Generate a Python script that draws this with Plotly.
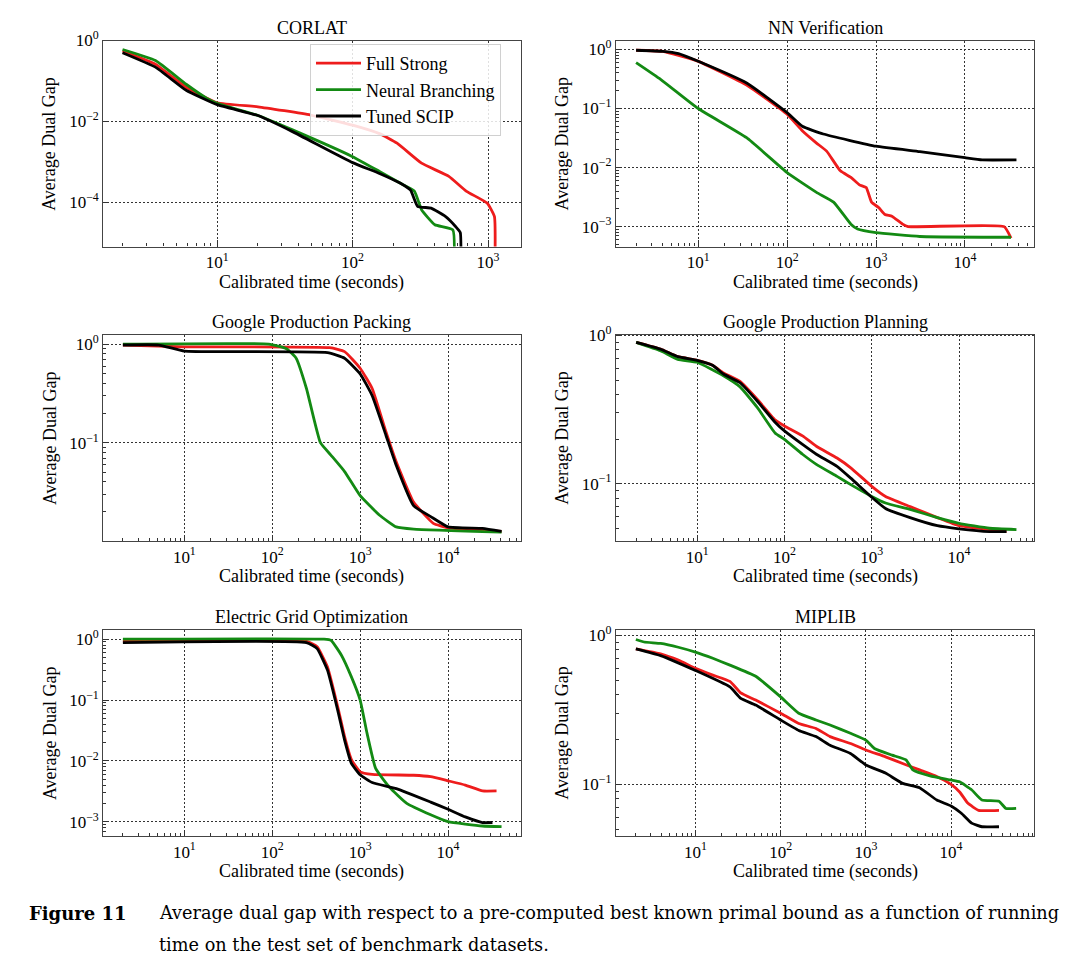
import plotly.graph_objects as go

# ---------------- data ----------------
series_names = ["Full Strong", "Neural Branching", "Tuned SCIP"]
series_colors = ["#ee1c1c", "#138a13", "#000000"]
panel_titles = ["CORLAT", "NN Verification", "Google Production Packing",
                "Google Production Planning", "Electric Grid Optimization", "MIPLIB"]

# CORLAT
corlat_fs_x = [2, 3.5, 5.9, 10, 20, 49, 100, 158, 213, 323, 514, 690, 985, 1115, 1120]
corlat_fs_y = [0.55, 0.26, 0.07, 0.029, 0.023, 0.0144, 0.0081, 0.005, 0.0029, 0.00093, 0.00044, 0.00019, 9.6e-5, 4.5e-5, 1e-6]
corlat_nb_x = [2, 3.5, 5.9, 8.4, 10, 20, 36, 100, 158, 224, 286, 323, 405, 550, 557]
corlat_nb_y = [0.60, 0.32, 0.083, 0.037, 0.028, 0.014, 0.0062, 0.00135, 0.00058, 0.0003, 0.00019, 6.6e-5, 2.8e-5, 2.1e-5, 1e-6]
corlat_ts_x = [2, 3.5, 5.9, 10, 20, 36, 100, 158, 224, 268, 302, 380, 484, 578, 624, 628]
corlat_ts_y = [0.50, 0.22, 0.059, 0.026, 0.014, 0.0056, 0.00096, 0.00052, 0.0003, 0.0002, 8e-5, 7.2e-5, 4.5e-5, 2.5e-5, 1.8e-5, 1e-6]

# NN Verification
nn_fs_x = [2, 4, 10, 35, 100, 148, 214, 278, 397, 522, 650, 775, 890, 1070, 1260, 1510, 1990, 2290, 27600, 33000]
nn_fs_y = [0.97, 0.93, 0.63, 0.25, 0.08, 0.042, 0.026, 0.019, 0.0088, 0.0068, 0.0051, 0.0046, 0.0026, 0.0021, 0.0016, 0.0015, 0.0011, 0.001, 0.001, 0.00064]
nn_nb_x = [2, 3.8, 10, 35, 100, 214, 333, 522, 620, 1000, 3110, 33000]
nn_nb_y = [0.6, 0.31, 0.1, 0.032, 0.0082, 0.0038, 0.0026, 0.0011, 0.00091, 0.00079, 0.00068, 0.00066]
nn_ts_x = [2, 4, 6, 10, 35, 100, 148, 255, 1000, 3110, 10000, 15600, 38000]
nn_ts_y = [0.97, 0.93, 0.85, 0.63, 0.27, 0.085, 0.05, 0.037, 0.023, 0.0186, 0.0147, 0.0135, 0.0135]

# Google Production Packing
pk_fs_x = [2, 10, 450, 665, 1000, 1370, 1960, 2570, 4050, 6800, 10000, 40600]
pk_fs_y = [0.98, 0.94, 0.92, 0.84, 0.57, 0.355, 0.13, 0.064, 0.025, 0.0152, 0.0137, 0.0126]
pk_nb_x = [2, 91, 145, 187, 245, 353, 464, 665, 1000, 1650, 2570, 4050, 40600]
pk_nb_y = [1.0, 1.0, 0.9, 0.72, 0.355, 0.10, 0.075, 0.051, 0.029, 0.0185, 0.014, 0.0133, 0.0124]
pk_ts_x = [2, 5.1, 10, 45, 425, 665, 1000, 1370, 1960, 2570, 4050, 6350, 10000, 24600, 40600]
pk_ts_y = [0.98, 0.98, 0.85, 0.84, 0.82, 0.72, 0.5, 0.30, 0.12, 0.059, 0.023, 0.0178, 0.014, 0.0135, 0.0126]

# Google Production Planning
pl_fs_x = [2, 3.8, 6, 10, 15, 20, 31, 49, 78, 100, 161, 232, 400, 575, 1000, 1440, 2750, 5650, 10000, 22300, 35000]
pl_fs_y = [0.90, 0.81, 0.72, 0.68, 0.63, 0.56, 0.49, 0.37, 0.27, 0.245, 0.21, 0.179, 0.149, 0.128, 0.096, 0.082, 0.070, 0.059, 0.052, 0.049, 0.0475]
pl_nb_x = [2, 3.8, 6, 10, 20, 31, 49, 78, 100, 161, 232, 400, 575, 1000, 1440, 2750, 5650, 10000, 22300, 45500]
pl_nb_y = [0.90, 0.79, 0.69, 0.66, 0.535, 0.45, 0.326, 0.22, 0.199, 0.158, 0.135, 0.112, 0.0985, 0.082, 0.074, 0.067, 0.059, 0.054, 0.05, 0.049]
pl_ts_x = [2, 3.8, 6, 10, 15, 20, 31, 49, 78, 100, 161, 232, 400, 575, 1000, 1440, 2750, 5650, 10000, 22300, 35000]
pl_ts_y = [0.90, 0.81, 0.72, 0.68, 0.63, 0.55, 0.48, 0.36, 0.26, 0.227, 0.184, 0.158, 0.131, 0.109, 0.081, 0.068, 0.059, 0.052, 0.0496, 0.0475, 0.0475]

# Electric Grid Optimization
eg_fs_x = [2, 245, 324, 425, 555, 665, 795, 1000, 1370, 4050, 6340, 10000, 15700, 24700, 35600]
eg_fs_y = [0.92, 0.92, 0.75, 0.35, 0.078, 0.025, 0.0105, 0.0066, 0.006, 0.0058, 0.0055, 0.0047, 0.004, 0.0032, 0.0032]
eg_nb_x = [2, 388, 465, 610, 795, 1000, 1200, 1500, 2150, 3390, 6340, 10000, 24600, 40600]
eg_nb_y = [1.0, 1.0, 0.96, 0.55, 0.24, 0.1, 0.028, 0.0075, 0.0037, 0.002, 0.0013, 0.001, 0.00085, 0.00083]
eg_ts_x = [2, 245, 324, 425, 555, 665, 795, 1000, 1370, 2580, 6340, 10000, 15700, 24700, 32000]
eg_ts_y = [0.88, 0.88, 0.70, 0.31, 0.068, 0.022, 0.0091, 0.0059, 0.0044, 0.0035, 0.0021, 0.0016, 0.0012, 0.00097, 0.00097]

# MIPLIB
mp_fs_x = [2, 3.9, 6.3, 10, 16, 25.4, 34, 51, 100, 163, 260, 380, 660, 1000, 1700, 2700, 4270, 6800, 10000, 12600, 15800, 21000, 36500]
mp_fs_y = [0.81, 0.75, 0.68, 0.60, 0.54, 0.49, 0.41, 0.367, 0.30, 0.256, 0.237, 0.209, 0.188, 0.17, 0.153, 0.138, 0.125, 0.113, 0.1, 0.089, 0.0746, 0.067, 0.067]
mp_nb_x = [2, 2.5, 3.9, 6.3, 10, 16, 25.4, 51, 100, 163, 260, 380, 660, 1000, 1260, 2030, 2960, 3560, 5660, 10000, 12600, 17400, 23000, 36500, 44000, 58000]
mp_nb_y = [0.935, 0.90, 0.88, 0.83, 0.77, 0.70, 0.63, 0.53, 0.386, 0.30, 0.27, 0.25, 0.22, 0.198, 0.174, 0.157, 0.146, 0.125, 0.114, 0.107, 0.104, 0.092, 0.0785, 0.077, 0.069, 0.069]
mp_ts_x = [2, 3.9, 10, 25.4, 34, 51, 100, 163, 260, 380, 660, 1000, 1700, 2700, 4270, 6800, 10000, 13200, 17400, 23000, 36500]
mp_ts_y = [0.81, 0.73, 0.58, 0.45, 0.377, 0.34, 0.27, 0.23, 0.209, 0.183, 0.161, 0.135, 0.119, 0.1016, 0.095, 0.0785, 0.0716, 0.064, 0.055, 0.052, 0.052]

# tick labels
x_ticks_corlat = [10, 100, 1000]
x_ticktext_corlat = ["10<sup>1</sup>", "10<sup>2</sup>", "10<sup>3</sup>"]
x_ticks_long = [10, 100, 1000, 10000]
x_ticktext_long = ["10<sup>1</sup>", "10<sup>2</sup>", "10<sup>3</sup>", "10<sup>4</sup>"]
y_ticks_corlat = [1, 1e-2, 1e-4]
y_ticktext_corlat = ["10<sup>0</sup>", "10<sup>−2</sup>", "10<sup>−4</sup>"]
y_ticks_3dec = [1, 1e-1, 1e-2, 1e-3]
y_ticktext_3dec = ["10<sup>0</sup>", "10<sup>−1</sup>", "10<sup>−2</sup>", "10<sup>−3</sup>"]
y_ticks_1dec = [1, 1e-1]
y_ticktext_1dec = ["10<sup>0</sup>", "10<sup>−1</sup>"]

x_title = "Calibrated time (seconds)"
y_title = "Average Dual Gap"
caption_label = "Figure 11"
caption_line1 = "Average dual gap with respect to a pre-computed best known primal bound as a function of running"
caption_line2 = "time on the test set of benchmark datasets."

# ---------------- layout geometry ----------------
W, H = 1080, 969
col_px = [(103.3, 520.5), (616.0, 1034.0)]
row_px = [(40.5, 246.5), (334.5, 541.0), (629.5, 836.0)]

panels = [
    dict(data=[(corlat_fs_x, corlat_fs_y), (corlat_nb_x, corlat_nb_y), (corlat_ts_x, corlat_ts_y)],
         xr=[0.159, 3.24], yr=[-5.09, 0.0], xt=(x_ticks_corlat, x_ticktext_corlat),
         yt=(y_ticks_corlat, y_ticktext_corlat), yminor=False),
    dict(data=[(nn_fs_x, nn_fs_y), (nn_nb_x, nn_nb_y), (nn_ts_x, nn_ts_y)],
         xr=[0.075, 4.777], yr=[-3.337, 0.152], xt=(x_ticks_long, x_ticktext_long),
         yt=(y_ticks_3dec, y_ticktext_3dec), yminor=True),
    dict(data=[(pk_fs_x, pk_fs_y), (pk_nb_x, pk_nb_y), (pk_ts_x, pk_ts_y)],
         xr=[0.078, 4.824], yr=[-1.997, 0.098], xt=(x_ticks_long, x_ticktext_long),
         yt=(y_ticks_1dec, y_ticktext_1dec), yminor=True),
    dict(data=[(pl_fs_x, pl_fs_y), (pl_nb_x, pl_nb_y), (pl_ts_x, pl_ts_y)],
         xr=[0.07, 4.859], yr=[-1.387, 0.007], xt=(x_ticks_long, x_ticktext_long),
         yt=(y_ticks_1dec, y_ticktext_1dec), yminor=True),
    dict(data=[(eg_fs_x, eg_fs_y), (eg_nb_x, eg_nb_y), (eg_ts_x, eg_ts_y)],
         xr=[0.078, 4.824], yr=[-3.235, 0.159], xt=(x_ticks_long, x_ticktext_long),
         yt=(y_ticks_3dec, y_ticktext_3dec), yminor=True),
    dict(data=[(mp_fs_x, mp_fs_y), (mp_nb_x, mp_nb_y), (mp_ts_x, mp_ts_y)],
         xr=[0.068, 4.973], yr=[-1.346, 0.038], xt=(x_ticks_long, x_ticktext_long),
         yt=(y_ticks_1dec, y_ticktext_1dec), yminor=True),
]


def minor_vals(lo, hi):
    vals = []
    for k in range(int(lo) - 1, int(hi) + 2):
        for m in range(2, 10):
            v = m * 10.0 ** k
            if 10 ** lo <= v <= 10 ** hi:
                vals.append(v)
    return vals


FONT = "Liberation Serif"
fig = go.Figure()
layout = dict(width=W, height=H, margin=dict(l=0, r=0, t=0, b=0),
              paper_bgcolor="white", plot_bgcolor="white",
              font=dict(family=FONT, size=18, color="black"),
              showlegend=True)
annotations = []

for i, p in enumerate(panels):
    r, c = divmod(i, 2)
    x0, x1 = col_px[c]
    y0, y1 = row_px[r]
    xa = "xaxis" if i == 0 else f"xaxis{i + 1}"
    ya = "yaxis" if i == 0 else f"yaxis{i + 1}"
    xref = "x" if i == 0 else f"x{i + 1}"
    yref = "y" if i == 0 else f"y{i + 1}"
    common = dict(type="log", tickmode="array", ticks="inside", ticklen=6, tickwidth=1,
                  tickcolor="#333", showline=True, linecolor="#444", linewidth=1.2,
                  mirror=True, showgrid=True, gridcolor="#333", gridwidth=0.9,
                  griddash="2px,2px", zeroline=False, automargin=False,
                  tickfont=dict(family=FONT, size=17, color="black"))
    layout[xa] = dict(common, domain=[x0 / W, x1 / W], range=p["xr"], anchor=yref,
                      tickvals=p["xt"][0], ticktext=p["xt"][1],
                      minor=dict(tickmode="array", tickvals=minor_vals(*p["xr"]),
                                 ticks="inside", ticklen=3, tickcolor="#333", showgrid=False))
    yminor = dict(tickmode="array", tickvals=minor_vals(*p["yr"]) if p["yminor"] else [],
                  ticks="inside", ticklen=3, tickcolor="#333", showgrid=False)
    layout[ya] = dict(common, domain=[1 - y1 / H, 1 - y0 / H], range=p["yr"], anchor=xref,
                      tickvals=p["yt"][0], ticktext=p["yt"][1], minor=yminor)
    for (sx, sy), name, color in zip(p["data"], series_names, series_colors):
        fig.add_trace(go.Scatter(x=sx, y=sy, mode="lines", name=name,
                                 line=dict(color=color, width=2.8, shape="spline", smoothing=0.4),
                                 legendgroup=name, showlegend=(i == 0),
                                 xaxis=xref, yaxis=yref))
    xc = (x0 + x1) / 2 / W
    annotations.append(dict(text=panel_titles[i], x=xc, y=1 - (y0 - 12.5) / H, xref="paper",
                            yref="paper", showarrow=False, xanchor="center", yanchor="middle",
                            font=dict(family=FONT, size=18, color="black")))
    annotations.append(dict(text=x_title, x=xc, y=1 - (y1 + 35.5) / H, xref="paper",
                            yref="paper", showarrow=False, xanchor="center", yanchor="middle",
                            font=dict(family=FONT, size=18, color="black")))
    annotations.append(dict(text=y_title, x=(x0 - 54) / W, y=1 - (y0 + y1) / 2 / H,
                            xref="paper", yref="paper", showarrow=False, textangle=-90,
                            xanchor="center", yanchor="middle",
                            font=dict(family=FONT, size=18, color="black")))

CAP_FONT = "DejaVu Serif"
annotations.append(dict(text="<b>" + caption_label + "</b>", x=27 / W, y=1 - 913 / H,
                        xref="paper", yref="paper", showarrow=False, xanchor="left",
                        yanchor="middle", font=dict(family=CAP_FONT, size=18, color="black")))
annotations.append(dict(text=caption_line1, x=157 / W, y=1 - 913 / H, xref="paper",
                        yref="paper", showarrow=False, xanchor="left", yanchor="middle",
                        font=dict(family=CAP_FONT, size=17.7, color="black")))
annotations.append(dict(text=caption_line2, x=157 / W, y=1 - 945 / H, xref="paper",
                        yref="paper", showarrow=False, xanchor="left", yanchor="middle",
                        font=dict(family=CAP_FONT, size=17.7, color="black")))

layout["annotations"] = annotations
layout["legend"] = dict(x=310 / W, y=1 - 44 / H, xanchor="left", yanchor="top",
                        bgcolor="rgba(255,255,255,0.85)", bordercolor="#d0d0d0",
                        borderwidth=1, tracegroupgap=0, itemwidth=45,
                        font=dict(family=FONT, size=18, color="black"))
fig.update_layout(**layout)
fig.write_html("out.html", config={"displayModeBar": False},
               post_script="document.body.style.margin='0';document.body.style.overflow='hidden';")
